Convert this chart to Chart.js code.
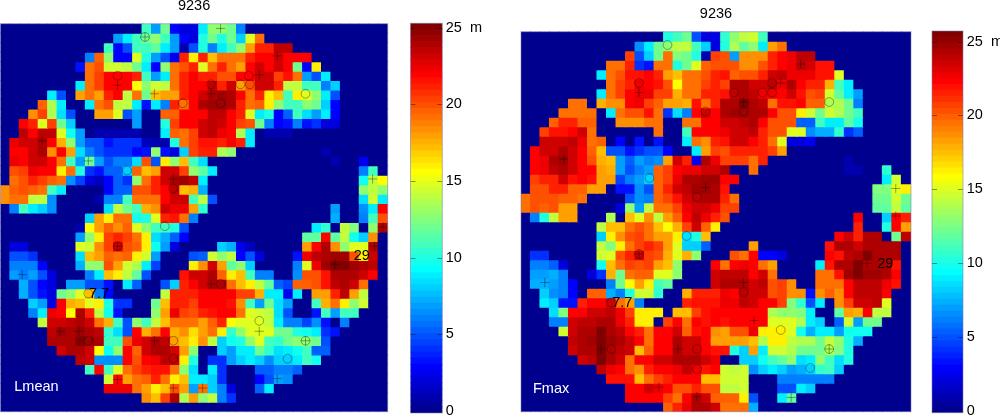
<!DOCTYPE html>
<html>
<head>
<meta charset="utf-8">
<script src="https://cdn.jsdelivr.net/npm/chart.js@4/dist/chart.umd.min.js"></script>
<style>
    html, body { margin: 0; padding: 0; background: #fff; overflow: hidden; }
    canvas { position: absolute; top: 0; }
</style>
</head>
<body>
<canvas id="mapL" width="390" height="417" style="left:0"></canvas>
<canvas id="barL" width="85" height="417" style="left:405px"></canvas>
<canvas id="mapR" width="400" height="417" style="left:515px"></canvas>
<canvas id="barR" width="75" height="417" style="left:925px"></canvas>
<script>
// Every row starts at the column given in *Start, cells past the end of a row are 0
const lmeanStart = [15,12,11,9,8,9,8,5,4,3,2,2,1,1,1,1,1,0,0,1,9,8,8,1,1,1,1,2,2,3,3,4,5,5,6,8,9,11,11,15,0];
const lmeanRows = [
    [11,7,12,3,2,2,9,13,13,12,6],
    [7,9,11,12,13,11,7,3,2,10,12,10,12,8,15,19],
    [11,3,5,11,11,11.5,9,7,1,5,10,6,9,11,13,18,21,21,23.5,23.5],
    [6,19.5,13,3,3,15,10,7,5,2.5,21,16,21,17,19,19,19,21,22,22,23,22,22,22],
    [3.5,19,20,14.5,14.5,14,12,9,3,13,19,20,21,15,19,21,19,18,22,23,22,23,22,12,3,16],
    [19,20.5,22,22,22,21,11,7,9,19,21,22,21,21,20,20,22,22,23,23,20.5,21.5,19,7,5,9],
    [9,19,20.5,22,22,22,15.5,13,14.5,14,19,21,22,22,23.5,21,23,18,20,23,23,21,14,14,11,11,6,8],
    [9,5,0,18,19,18,21,22,14,19,12,17,18,18,21,22,23,24,24.5,24,22,19,21,16,17,11,16,15,13,9,5],
    [19.5,13.5,9,0,0,9,19,20,14,14,9,3.5,9,6,21,19,22,24,24.5,24.5,24,21,19,19.5,16,13,11,11,13,12,8,3],
    [18.5,20.5,13.5,8.5,5,0,0,18,18,15,5,7,0,0,19.5,19.5,22,22,22,23.5,23.5,22,21,15,9,10,3,5.5,11,8.5,7,9,3],
    [22,21,15,20.5,12,8,0,0,0,0,0,0,7,0,0,10,20.5,22,22,23,23.5,23,22,20.5,20,12,6,3,3.5,6,3.5,4,2,2],
    [23.5,22,23.5,23.5,15,9.5,7,0,1,1,1,1,1,0,0,9,19.5,19,20.5,23,23.5,22.5,22,13.5,9,0,1,1,1],
    [22.5,23,23,24,22,17.5,13,7,5,5,3.5,4,4,4,1.5,1,1,10,19,20.5,21.5,21.5,21,22,21,9],
    [22,22,23,24,18.5,22,18,8.5,6,5,4,4,4,3,3.5,13,3.5,2,8,20.5,21,21,13.5,13,0,0,0,0,0,0,0,0,0,1],
    [22.5,22,23,23,22,19,11,7,12,7,5,6,6,8.5,20,5,16,13,17,11,8.5,0,0,0,0,0,0,0,0,0,0,0,0,0,1,0,0,2.5],
    [20,20.5,22.5,22,22,16,19,10,4,3.5,5.5,5.5,8,19.5,17,18,23,23,20.5,13,11.5,9,0,0,0,0,0,0,0,0,0,0,0,0,0,0,0,6,11],
    [19,20,21,20.5,19.5,19,6.5,4.5,2,1.5,3,5.5,4,13,19,21,23,24,24.5,23.5,9,0,0,0,0,0,0,0,0,0,0,0,0,0,0,0,0,9.5,14,15.5],
    [18.5,19.5,20,19.5,19,11,9,0,0,0,0,3,5.5,5.5,20,20,21,22,23.5,17,17.5,7.5,0,0,0,0,0,0,0,0,0,0,0,0,0,0,0,0,13,14,13],
    [18.5,19,19,14,14,6.5,0,0,0,0,1,6,6,11,19,19,19,22,23,23,11,14,5,0,0,0,0,0,0,0,0,0,0,0,0,0,0,0,8.5,14.5,9],
    [6,11,9,8,6.5,0,0,0,0,0,8.5,14,12,11,17.5,18.5,23,22.5,22.5,18,10.5,0,0,0,0,0,0,0,0,0,0,0,0,0,7,0,0,6.5,9,22],
    [8,18,16,19,19,9.5,10,15,21,21.5,19,6,0,0,0,0,0,0,0,0,0,0,0,0,0,0,7.5,0,0,6,11,20],
    [1,15.5,18,19.5,18.5,19.5,15,13,11,11,10,5,0,0,0,0,0,0,0,0,0,0,0,0,0,9,10.5,0,14,12.5,0,13,24],
    [7,13,16,20.5,21,20.5,19,16,8.5,7.5,5.5,3,0,0,0,0,0,0,0,0,0,0,0,0,11.5,11.5,22,11.5,14,9.5,8,18.5],
    [2,2,0,0,0,0,0,15,14.5,18.5,20.5,23,20,19.5,16,9.5,7,2,0,0,0,0,8,7.5,2.5,1.5,0,0,0,0,0,18,22,24,18.5,13,15,15,24],
    [5,5,4,0,0,0,0,8.5,17,18,19.5,19,19.5,16,14.5,7,0,0,0,5,5.5,14.5,13,14,3,5,2,0,0,0,3.5,22.5,23.5,24,24.5,24.5,20,16,23],
    [6,6,6,3,0,0,0,7.5,13,13,20,18,14.5,13.5,9,4.5,0,0,0,16,18.5,23,18,11.5,13,8,0,0,0,0,6,15,22.5,24.5,25,25,24.5,24,23.5],
    [7,6,7,5,2,0,0,0,6,9,17,16,14,11.5,5,0,0,0,21.5,23,23,24,19.5,16,17,11,6,6,0,0,6.5,20,20,21.5,24,24,24,23,22],
    [7.5,5,3,2,0,7,7,5,5,3.5,0,9,5.5,0,0,5,8,21,22,23,24,24,19,17,16,14,11.5,5.5,4.5,19.5,19.5,20,21.5,23.5,24,23,19],
    [7.5,5,3.5,2,12,13,15,17,6,3,0,0,0,0,0,14,21,21,21,22,22,22,22,20.5,20.5,17.5,9,9,2.5,9,0,18,18,21,23.5,18,14],
    [8,7,2,22,17.5,17,15,16,10,4,4,0,0,12,17,21,21,20.5,22,22,22,21.5,18.5,11,7,12,8.5,7,0,0,11,17.5,19,16,13,14.5],
    [6,9,22.5,22,15.5,24,21,14,9.5,3.5,0,0,0,13,18,22.5,20.5,20,21,21.5,22,22,19,15,14.5,14,8.5,5,0,0,3.5,11,7,11,11],
    [14,23,23,23.5,24,23,19,17.5,11,5,13,11,14,17,19,19,19,18,19.5,21,15.5,15,15,15,14,9,6,6,4.5,6.5,3.5,0,6],
    [23.5,24.5,24,24.5,24,23.5,10.5,8.5,5,22,17.5,19,22,17.5,18.5,16.5,18,19,16,10.5,13,15,15,15,12,12,10,9.5,9,4,3.5],
    [24,24,24,25,24.5,24,11,11,20,22.5,23,24,23.5,18,17,16,18.5,14,8,9.5,10,13,15,11,10.5,12,13,13,12,5],
    [23,24,24,23,15.5,9.5,13,22,19.5,23,24,24,23,18,13,0,0,8,7,9,9,12,10.5,8.5,9,9.5,11,5.5,5.5],
    [23.5,23,6.5,6.5,6.5,22,20,22,22.5,23.5,23.5,16,10,0,4,4,7,8,9,8,6.5,8,8,9,11,9.5],
    [11,22,11,15,19,20.5,21,21.5,21.5,19,13,8.5,0,9,4,0,0,0,5.5,5.5,6,6,5.5],
    [14.5,22,18,19,19.5,21,19,16,17,9,9,8,4,0,0,0,3,5,7,6.5],
    [22.5,22.5,22.5,19,18,16,17,20,18,7,19,8,6,2,0,0,5.5,9],
    [18.5,17,20.5,24,13.5,18,13,14,6,4],
    []
];

const fmaxStart = [15,12,11,9,8,9,8,5,4,3,2,2,1,1,1,1,1,0,0,1,8,8,8,1,1,1,1,2,2,3,3,4,5,5,6,8,9,11,11,15];
const fmaxRows = [
    [10,11,12,5,2,2,10.5,13,14,14.5,11],
    [6.5,9,12,13,14,14,11,8,2,10,13.5,11.5,13,9,18,19],
    [20.5,5,8,12,19,12.5,12,10,1,20.5,20,7,18.5,18.5,18.5,21,22,22.5,23.5,23.5],
    [19,19,21,4,3.5,19,19,10,12,15,19.5,20,20,20,18.5,18.5,20,21,22,22.5,23.5,23,21.5,21.5],
    [9,19,20,21.5,21.5,22,21,18,17,19,19,20,21,21.5,19.5,20,20,21,23,23.5,22.5,22.5,22.5,21.5,21.5,15],
    [19,20.5,21,22.5,22,21.5,20,15.5,19,19,20.5,21,20.5,24,24,23,23,23.5,22.5,24,22,21,21,17.5,11,9],
    [9,19,20.5,22,22.5,22.5,20.5,20.5,17.5,19,19,21,21,21.5,23.5,24,23.5,22.5,22.5,22,23,21.5,20,20.5,14.5,11.5,9,7],
    [19,19,0,17.5,18.5,18.5,22,22.5,20.5,19.5,18,18,17.5,21.5,19,21,24,24,25,24,23.5,19,21.5,21.5,22,19.5,19.5,13.5,13.5,12,6],
    [19,19,19,19,0,9,19,20,20,21.5,19,4,8.5,6,22,23,22,24,24.5,24.5,24,24,22,20,20,16,14.5,12,14.5,13.5,12,11],
    [19.5,21,21,19.5,19.5,0,0,18.5,18.5,18.5,19,19,0,0,19,19,22,22,23,23,23.5,24,22,20,20,20,5.5,5.5,11,9,9,11.5,9.5],
    [20.5,21.5,21.5,22,23,19,0,0,0,0,0,0,19,0,0,11,22,22,22,22.5,23,23,23.5,21,20,20,15,15,6.5,7.5,7.5,10.5,4,5.5],
    [23,23,23,23.5,22.5,19,19.5,0,3,0,3.5,0,3.5,0,0,9,19,18.5,21,21.5,23,23,22,21,19,15,2,2,2.5],
    [22,23,23,24,23,22,19.5,17,5,5,3.5,4,5,5,3,0,0,9,18,20.5,20,21,21,21,21,20.5,18],
    [22,22.5,24,24.5,23,22,20,17.5,17,7,5.5,7,6,6.5,18,23,21,2.5,24,22.5,20.5,20.5,20.5,19,21,0,0,0,0,0,0,0,0,1],
    [22,22.5,23.5,24,23,22,22,18,17.5,7,5,6,7,19.5,20.5,22,22.5,22.5,23,23,24,0,0,19,0,0,0,0,0,0,0,0,0,1,1,0,0,10.5],
    [20.5,21,21,23,21.5,22,21.5,18,18,4.5,6,7,8,19.5,20.5,22.5,24,24,24.5,24.5,22,22,0,0,0,0,0,0,0,0,0,0,0,0,0,0,0,9,14.5],
    [20,20,21,21,19.5,19.5,18,18,0,3.5,3.5,6.5,5,19.5,21,23,23.5,24.5,24.5,24,21.5,0,0,0,0,0,0,0,0,0,0,0,0,0,0,0,12.5,12.5,15,16],
    [19,20,20,20,19.5,19.5,19,0,0,0,0,5,6.5,6,19.5,20.5,21.5,23,23.5,24,24,21,19,0,0,0,0,0,0,0,0,0,0,0,0,0,0,12,12,14.5,12],
    [19,20,19.5,20,18,18,0,0,0,0,2,13,7,14,19,19,20.5,22.5,23,23,22.5,20.5,20.5,0,0,0,0,0,0,0,0,0,0,0,0,0,0,11.5,11.5,14,11.5],
    [6,10,14,18,18,0,0,0,13.5,0,17,15,18.5,14,18,19.5,22,23.5,22.5,21,20,0,0,0,0,0,0,0,0,0,0,0,0,0,22,0,0,8,22,21],
    [14,17,17,19,20,19,17,15.5,17.5,20.5,23,19.5,16,0,0,0,0,0,0,0,0,0,0,0,0,0,0,21,0,0,10,22,18],
    [8,16,18.5,20,20.5,19,18,18,16,8.5,10,17,0,0,0,0,0,0,0,0,0,0,0,0,0,22,23,21,24,24,0,12,23.5],
    [14,12.5,16,19,20.5,21,20.5,18,15,8,8,5.5,0,0,0,0,18,0,0,0,0,0,0,0,21.5,24,24,23,24,24,24,24],
    [4,4,0,0,0,0,0,14.5,15,20,21,23,20.5,20,17.5,15,17.5,13,0,0,0,20,19,22,3,3,2,0,0,0,0,22,21.5,23.5,24,25,24,24,24],
    [6,6,5.5,2,0,0,0,9.5,17,19,20.5,20,20.5,18,17,13,0,0,0,22,19,22,22.5,22,19,18,0,0,0,0,9,21.5,24,24,25,24,24,24,21.5],
    [7,7,7.5,6,0,0,2,4,17.5,12,19,19.5,19.5,15,15,13,0,0,0,23,23.5,23.5,23.5,22,23,19,0,0,0,0,19,19,21.5,24.5,25,24.5,24.5,24,22],
    [7.5,7.5,7,6,3,0,0,0,6,12,15.5,18,16,11,11.5,0,0,0,0,23,24,24,24,23,23.5,20,20.5,18.5,0,0,19,19,19,22,23.5,23.5,23.5,22.5,21.5],
    [8,6.5,6,3,0,19.5,19.5,7.5,6,10,14.5,14.5,10.5,0,0,17.5,21,21,21,22.5,22,23.5,23,23,20,20.5,18.5,18.5,3.5,18.5,19.5,18.5,22,23.5,23.5,23.5,22],
    [9,8,3.5,3.5,21,22,22,23,19,18,6,0,0,0,0,21,21.5,21.5,21.5,22.5,22.5,23.5,23,22,22,20.5,12.5,10.5,5,9,0,18.5,20.5,23,23,23.5,15],
    [8.5,12.5,22,22,23,23,23.5,22.5,20.5,16,16,16,0,17,17,20.5,21.5,22,22,22,22,22,22,13.5,13,13,12.5,9,0,0,11.5,18,17.5,22,14,14],
    [6,6,23,23.5,23.5,24,24,22.5,21,16,16,0,20.5,22,19,22,21.5,22,21.5,22,22,22,22,15,15,15,13.5,9,8,0,5.5,14.5,7,12,12],
    [14.5,23,24,24,25,24,23.5,22,21,19,22,22,23,19.5,21.5,22,18.5,18,20,20,22.5,16,16,16,15,9.5,7.5,9,9,7,9.5,9.5,9.5],
    [23.5,24,24.5,25,24.5,24,23,22,19,22,22,24,23,23,22,18,18,18,18,17,13.5,16,16,14,13.5,13.5,12,14,13,10,7.5],
    [23,24,24,25,24,23.5,23,17,19.5,22,22,24,23,23,22,21.5,21.5,10,8,18,9,14.5,14.5,13.5,12,12,12,13.5,12.5,10],
    [23,23.5,25,24,23,19,22,22,23,23,24,24,24,23,22.5,0,0,8,8,9.5,11,11.5,13,8.5,9,13,11,8.5,10],
    [23.5,22.5,22,19,18.5,21,22,22,22.5,23.5,22.5,21.5,22,14.5,14,14.5,6.5,8,9,8,7,7.5,8,10.5,11,8],
    [21.5,21.5,21.5,17,19,20.5,21,22,22,22,17,17,14.5,14.5,14.5,0,0,0,6,6,6,6,6,6],
    [22,22,23,22.5,22,20,20,21,20,20,14,14,14.5,0,0,0,5,5,9,8],
    [22,22,22,22,20.5,19,22,24,23,19.5,19.5,19.5,16,5,0,0,9,11.5],
    [19.5,21,22.5,24,24,23,19,19,19,7.5]
];

// tree marks, in grid cells [column, row]
const lmeanCircles = [[15.3,1.4],[12.4,5.5],[19.3,8.4],[13.4,15.5],[18.3,17.4],[26.3,5.5],[25.4,6.4],[26.4,6.4],[22.3,6.4],[23.3,8.4],[32.3,7.4],[17.4,21.4],[12.4,23.5],[9.3,28.5],[9.3,33.5],[18.3,33.5],[18.3,35.4],[23.3,27.5],[27.4,31.4],[32.3,33.5],[30.4,35.4]];
const lmeanCrosses = [[15.3,1.4],[12.4,6.5],[16.3,7.4],[4.4,12.4],[9.3,14.5],[18.3,16.4],[23.3,0.5],[29.3,3.4],[27.4,5.4],[22.3,7.4],[39.4,16.4],[2.3,26.5],[12.4,23.5],[6.3,32.5],[8.3,32.5],[16.3,33.5],[12.4,37.6],[18.3,38.5],[21.4,38.5],[22.3,27.5],[27.4,32.5],[32.3,33.5],[29.3,37.5],[35.4,25.4],[39.6,23.5],[40.5,21.5]];
const fmaxCircles = [[15.4,1.4],[12.4,5.4],[19.4,8.4],[13.5,15.4],[18.5,17.4],[22.4,6.4],[26.4,5.4],[25.4,6.4],[26.4,6.4],[23.4,8.4],[32.4,7.4],[17.4,21.5],[12.4,23.4],[9.5,28.5],[9.5,33.4],[18.5,33.4],[18.5,35.5],[23.4,27.4],[27.3,31.4],[32.4,33.4],[30.4,35.4]];
const fmaxCrosses = [[12.4,6.4],[4.5,13.4],[19.4,16.4],[29.4,3.4],[27.3,5.4],[23.4,7.4],[39.4,16.5],[2.5,26.4],[12.4,23.4],[8.4,33.4],[16.5,33.4],[14.5,37.4],[18.5,38.4],[23.4,26.4],[24.5,30.4],[32.4,33.4],[28.4,38.5],[39.4,19.4],[36.4,24.4]];

const lmeanNotes = [["Lmean",1.46,38.8,"#fff"],["7.7",9.36,29,"#000"],["29",37.4,25,"#000"]];
const fmaxNotes = [["Fmax",1.26,38,"#fff"],["7.7",9.58,28.95,"#000"],["29",37.44,24.9,"#000"]];

const colorTicks = [0,5,10,15,20,25];
const colorLevels = 64;
const colorMax = 25.3;
const gridCols = 41;
const fontName = '"Liberation Sans", Arial, sans-serif';
const frameColor = "rgba(120,120,180,0.55)";

// same table as matlab jet(64)
const jet = function (level) {
    const t = (level + 1) / colorLevels;
    const c = (v) => Math.round(255 * Math.max(0, Math.min(1, v)));
    const r = c(Math.min(4 * t - 1.5, 4.5 - 4 * t));
    const g = c(Math.min(4 * t - 0.5, 3.5 - 4 * t));
    const b = c(Math.min(4 * t + 0.5, 2.5 - 4 * t));
    return `rgb(${r},${g},${b})`;
}

const cellColor = function (v) {
    return jet(Math.min(colorLevels - 1, Math.floor(v / colorMax * colorLevels)));
}

const framePlugin = {
    id: "frame",
    afterDatasetsDraw(chart) {
        const { ctx, chartArea: a } = chart;
        ctx.save();
        ctx.strokeStyle = frameColor;
        ctx.lineWidth = 1;
        ctx.strokeRect(a.left, a.top, a.right - a.left, a.bottom - a.top);
        ctx.restore();
    }
}

// the texts sit on the picture, placed in grid cells
const notesPlugin = function (notes) {
    return {
        id: "notes",
        afterDraw(chart) {
            const ctx = chart.ctx;
            ctx.save();
            ctx.font = `14.5px ${fontName}`;
            notes.forEach(([text, col, row, color]) => {
                ctx.fillStyle = color;
                ctx.fillText(text, chart.scales.xm.getPixelForValue(col), chart.scales.y.getPixelForValue(row));
            });
            ctx.restore();
        }
    }
}

const barTicksPlugin = {
    id: "barTicks",
    afterDatasetsDraw(chart) {
        const { ctx, chartArea: a, scales } = chart;
        ctx.save();
        ctx.strokeStyle = "rgba(0,0,0,0.4)";
        colorTicks.forEach((tick) => {
            const y = Math.round(scales.y.getPixelForValue(tick)) + 0.5;
            ctx.beginPath();
            ctx.moveTo(a.left, y);
            ctx.lineTo(a.left + 5, y);
            ctx.moveTo(a.right - 5, y);
            ctx.lineTo(a.right, y);
            ctx.stroke();
        });
        ctx.restore();
    }
}

const heatmap = function (target, starts, rows, circles, crosses, notes, rowCount, titleTop, padding) {
    const labels = [];
    for (let c = 0; c < gridCols; c++) labels.push(String(c));

    const datasets = [
        { type: "scatter", xAxisID: "xm", yAxisID: "y", order: 0, data: circles.map(([x, y]) => ({ x, y })),
          pointStyle: "circle", pointRadius: 4.4, borderWidth: 1, pointBackgroundColor: "rgba(0,0,0,0)", pointBorderColor: "rgba(0,0,0,0.35)" },
        { type: "scatter", xAxisID: "xm", yAxisID: "y", order: 0, data: crosses.map(([x, y]) => ({ x, y })),
          pointStyle: "cross", pointRadius: 4.6, borderWidth: 1, pointBorderColor: "rgba(0,0,0,0.35)" }
    ];

    for (let r = 0; r < rowCount; r++) {
        const cells = new Array(gridCols).fill(0);
        rows[r].forEach((v, i) => { cells[starts[r] + i] = v; });
        datasets.push({
            type: "bar", xAxisID: "x", yAxisID: "y", order: 1,
            data: cells.map(() => [r, r + 1]),
            backgroundColor: cells.map(cellColor),
            barPercentage: 1, categoryPercentage: 1, grouped: false, inflateAmount: 0.6
        });
    }

    return new Chart(target, {
        data: { labels, datasets },
        plugins: [framePlugin, notesPlugin(notes)],
        options: {
            responsive: false,
            animation: false,
            layout: { padding, autoPadding: false },
            plugins: {
                legend: { display: false },
                tooltip: { enabled: false },
                title: {
                    display: true, text: "9236", color: "#000",
                    font: { family: fontName, size: 14.5, weight: "normal", lineHeight: 0.76 },
                    padding: { top: titleTop, bottom: padding.titleGap }
                }
            },
            scales: {
                x: { display: false },
                xm: { type: "linear", display: false, min: 0, max: gridCols },
                y: { type: "linear", display: false, min: 0, max: rowCount, reverse: true }
            }
        }
    })
}

const colorbar = function (target, barMin, barMax, padding, axisWidth, tickGap) {
    const datasets = [];
    const step = (barMax - barMin) / colorLevels;
    for (let i = 0; i < colorLevels; i++) {
        datasets.push({
            data: [[barMin + i * step, barMin + (i + 1) * step]],
            backgroundColor: jet(i),
            barPercentage: 1, categoryPercentage: 1, grouped: false, inflateAmount: 0.6
        });
    }
    return new Chart(target, {
        type: "bar",
        data: { labels: ["m"], datasets },
        plugins: [barTicksPlugin, framePlugin],
        options: {
            responsive: false,
            animation: false,
            layout: { padding, autoPadding: false },
            plugins: { legend: { display: false }, tooltip: { enabled: false } },
            scales: {
                x: { display: false },
                y: {
                    type: "linear", position: "right", min: barMin, max: barMax,
                    grid: { display: false, drawTicks: false }, border: { display: false },
                    afterBuildTicks: (axis) => { axis.ticks = colorTicks.map((value) => ({ value })); },
                    afterFit: (axis) => {
                        axis.width = axisWidth;
                        axis.paddingTop = 0;
                        axis.paddingBottom = 0;
                    },
                    ticks: {
                        autoSkip: false, padding: tickGap, color: "#000", maxRotation: 0,
                        font: { family: fontName, size: 14.5 },
                        callback: (v) => (v === 25 ? "25  m" : String(v))
                    }
                }
            }
        }
    })
}

heatmap(document.getElementById("mapL"), lmeanStart, lmeanRows, lmeanCircles, lmeanCrosses, lmeanNotes, 41, 0,
    { left: 0.5, right: 2.3, top: 0, bottom: 5.3, titleGap: 12.7 });
heatmap(document.getElementById("mapR"), fmaxStart, fmaxRows, fmaxCircles, fmaxCrosses, fmaxNotes, 40, 8.1,
    { left: 6, right: 4, top: 0, bottom: 5.3, titleGap: 12.6 });
colorbar(document.getElementById("barL"), -0.13, 25.29, { left: 5.5, top: 23.3, bottom: 4 }, 47.7, 3.4);
colorbar(document.getElementById("barR"), -0.135, 25.72, { left: 7, top: 31, bottom: 4.3 }, 37, 3.7);
</script>
</body>
</html>
